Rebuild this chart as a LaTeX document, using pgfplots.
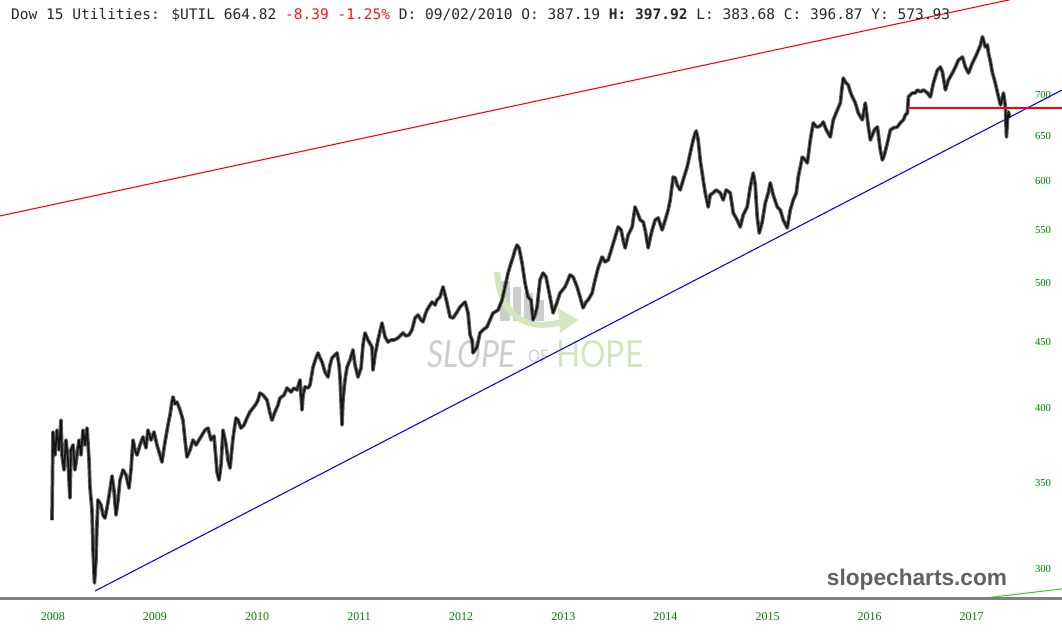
\documentclass[border=0pt]{standalone}
\usepackage{fontspec}
\setmainfont{Liberation Serif}
\newfontfamily\monofont{DejaVu Sans Mono}
\newfontfamily\wmfont[FakeStretch=0.85]{Lato}
\newfontfamily\sitefont{Liberation Sans}
\usepackage{pgfplots}
\usepackage{pgfplotstable}
\pgfplotsset{compat=1.18}
\definecolor{hdrred}{RGB}{255,20,20}
\definecolor{hdrtxt}{RGB}{40,40,40}
\definecolor{tickgreen}{RGB}{0,128,0}
\definecolor{wmgray}{RGB}{205,205,205}
\definecolor{wmgreen}{RGB}{212,230,188}
\definecolor{pricecol}{RGB}{20,20,20}
\definecolor{bandcol}{RGB}{70,72,68}
\definecolor{pureRed}{RGB}{255,0,0}
\definecolor{pureBlue}{RGB}{0,0,255}
\definecolor{lineGreen}{RGB}{40,220,40}

\pgfplotstableread{
x y
2007.992 327.4
2008.002 383.3
2008.022 367.8
2008.041 384.6
2008.061 371.1
2008.080 391.5
2008.090 367.8
2008.110 358.1
2008.129 377.8
2008.149 364.5
2008.168 340.6
2008.178 371.1
2008.198 374.5
2008.217 358.1
2008.237 367.8
2008.257 377.8
2008.276 367.8
2008.296 384.6
2008.315 374.5
2008.335 386.0
2008.355 364.5
2008.364 347.3
2008.384 333.3
2008.394 310.3
2008.408 292.6
2008.423 304.9
2008.433 325.7
2008.443 339.4
2008.472 336.4
2008.492 330.4
2008.511 328.6
2008.531 334.6
2008.560 345.5
2008.580 354.3
2008.599 345.5
2008.619 330.4
2008.639 339.4
2008.658 351.7
2008.688 358.1
2008.717 354.9
2008.746 346.7
2008.766 358.1
2008.786 377.8
2008.805 371.1
2008.825 367.8
2008.854 374.5
2008.883 379.9
2008.913 372.5
2008.932 384.6
2008.962 377.8
2008.991 383.3
2009.020 374.5
2009.050 367.8
2009.069 363.2
2009.099 376.5
2009.128 388.1
2009.148 395.1
2009.167 404.3
2009.177 408.0
2009.197 402.9
2009.216 404.3
2009.246 398.7
2009.275 391.5
2009.295 377.8
2009.314 366.5
2009.344 371.1
2009.373 377.8
2009.403 374.5
2009.432 377.8
2009.461 381.2
2009.491 384.6
2009.520 386.0
2009.550 377.8
2009.579 380.5
2009.599 364.5
2009.608 356.8
2009.628 351.7
2009.648 361.3
2009.667 384.6
2009.697 374.5
2009.716 364.5
2009.736 359.3
2009.765 379.2
2009.794 393.0
2009.814 391.5
2009.843 386.0
2009.873 388.1
2009.902 393.0
2009.931 397.3
2009.961 400.0
2009.990 402.9
2010.010 405.8
2010.029 410.9
2010.059 409.4
2010.098 405.8
2010.127 396.5
2010.147 391.5
2010.176 397.3
2010.206 402.2
2010.225 407.2
2010.265 409.4
2010.294 414.6
2010.333 411.6
2010.363 414.6
2010.392 413.1
2010.421 420.6
2010.441 398.7
2010.451 409.4
2010.470 415.4
2010.500 414.6
2010.519 416.9
2010.549 430.4
2010.578 437.5
2010.598 441.4
2010.617 437.5
2010.637 434.3
2010.666 426.6
2010.696 422.8
2010.715 432.0
2010.735 437.5
2010.764 439.8
2010.784 441.4
2010.803 432.0
2010.813 422.8
2010.833 388.1
2010.842 405.8
2010.862 420.6
2010.882 430.4
2010.911 435.9
2010.940 443.8
2010.960 432.0
2010.989 422.8
2011.019 429.7
2011.038 447.7
2011.058 457.5
2011.087 451.7
2011.126 446.1
2011.136 428.1
2011.156 439.8
2011.185 451.7
2011.224 465.7
2011.254 454.2
2011.283 450.1
2011.312 451.7
2011.342 451.7
2011.381 453.4
2011.401 455.0
2011.430 457.5
2011.459 455.0
2011.489 455.9
2011.518 460.0
2011.548 469.8
2011.577 472.4
2011.606 468.2
2011.626 466.6
2011.646 472.4
2011.665 476.6
2011.695 480.9
2011.714 483.5
2011.744 480.9
2011.763 485.2
2011.793 487.8
2011.822 496.7
2011.842 489.6
2011.861 482.6
2011.891 470.7
2011.920 469.8
2011.959 474.9
2011.989 479.2
2012.008 480.9
2012.038 483.5
2012.067 474.1
2012.087 455.9
2012.106 451.7
2012.116 441.4
2012.135 443.8
2012.155 446.1
2012.184 457.5
2012.214 460.0
2012.253 462.4
2012.282 468.2
2012.312 474.1
2012.331 474.9
2012.361 476.6
2012.400 485.2
2012.429 496.7
2012.459 509.2
2012.488 518.4
2012.508 524.0
2012.527 530.6
2012.547 535.3
2012.567 532.5
2012.596 518.4
2012.625 500.2
2012.655 487.8
2012.684 485.2
2012.704 468.2
2012.723 472.4
2012.743 479.2
2012.772 503.0
2012.802 509.2
2012.831 505.6
2012.870 487.8
2012.900 474.1
2012.929 480.9
2012.968 491.3
2013.017 496.7
2013.047 503.0
2013.066 507.4
2013.096 505.6
2013.135 496.7
2013.164 487.8
2013.194 478.4
2013.223 483.5
2013.243 485.2
2013.282 491.3
2013.311 503.0
2013.341 513.8
2013.380 524.0
2013.409 519.4
2013.439 521.2
2013.478 533.4
2013.508 543.0
2013.537 552.9
2013.566 549.9
2013.586 540.1
2013.606 532.5
2013.635 545.0
2013.674 552.9
2013.703 573.0
2013.723 568.0
2013.753 559.8
2013.782 557.9
2013.802 549.9
2013.831 532.5
2013.851 542.1
2013.870 549.9
2013.900 559.8
2013.929 561.9
2013.968 549.9
2013.998 559.8
2014.027 570.0
2014.047 580.2
2014.066 596.0
2014.076 604.6
2014.096 603.5
2014.115 596.0
2014.145 590.7
2014.174 601.4
2014.213 615.5
2014.243 631.0
2014.272 645.9
2014.292 654.1
2014.302 656.4
2014.321 645.9
2014.341 623.2
2014.370 601.4
2014.390 587.6
2014.419 573.0
2014.439 585.5
2014.468 587.6
2014.497 590.7
2014.537 587.6
2014.566 580.2
2014.595 590.7
2014.635 587.6
2014.664 567.0
2014.703 559.8
2014.733 552.9
2014.762 564.9
2014.801 573.0
2014.831 593.9
2014.860 608.9
2014.880 596.0
2014.899 562.9
2014.919 546.9
2014.948 557.9
2014.978 577.1
2015.007 587.6
2015.027 598.2
2015.056 585.5
2015.095 573.0
2015.125 570.0
2015.154 559.8
2015.193 551.9
2015.223 570.0
2015.252 580.2
2015.282 587.6
2015.301 604.6
2015.341 626.5
2015.370 623.2
2015.390 619.9
2015.419 645.9
2015.448 665.9
2015.478 661.2
2015.497 661.2
2015.527 663.5
2015.546 667.1
2015.576 657.6
2015.615 649.4
2015.644 669.5
2015.684 681.5
2015.713 690.1
2015.733 712.7
2015.742 721.6
2015.762 716.5
2015.791 712.7
2015.811 703.9
2015.831 697.6
2015.860 690.1
2015.889 677.8
2015.929 669.5
2015.958 690.1
2015.988 661.2
2016.007 645.9
2016.027 651.8
2016.047 657.6
2016.076 661.2
2016.105 634.4
2016.125 623.2
2016.144 628.8
2016.174 642.5
2016.203 657.6
2016.233 660.0
2016.272 661.2
2016.301 665.9
2016.331 669.5
2016.350 675.4
2016.370 677.8
2016.380 697.6
2016.399 700.1
2016.419 702.6
2016.448 702.6
2016.468 706.4
2016.497 703.9
2016.527 706.4
2016.566 702.6
2016.595 697.6
2016.625 715.2
2016.664 732.0
2016.693 735.9
2016.713 729.4
2016.742 706.4
2016.772 719.1
2016.811 728.1
2016.840 735.9
2016.870 745.2
2016.909 749.3
2016.938 735.9
2016.968 728.1
2017.007 741.3
2017.036 749.3
2017.066 758.7
2017.086 765.6
2017.105 777.0
2017.134 762.8
2017.154 765.6
2017.164 754.6
2017.184 742.6
2017.203 728.1
2017.223 719.1
2017.242 708.9
2017.262 697.6
2017.282 687.6
2017.301 696.3
2017.311 702.6
2017.321 693.8
2017.331 683.9
2017.340 649.4
2017.350 669.5
2017.360 679.1
2017.370 671.8
}\utildata

\begin{document}
\begin{tikzpicture}
\useasboundingbox (0,-29.25pt) rectangle (796.5pt,448.5pt);
% watermark (pixel coordinates, origin top-left)
\begin{scope}[x=0.75pt,y=-0.75pt,shift={(0,448.5pt)}]
  \fill[wmgray] (500,281) rectangle (510,321);
  \fill[wmgray] (513,287) rectangle (521,321);
  \fill[wmgray] (524,293) rectangle (533,321);
  \fill[wmgray] (536,300) rectangle (544,321);
  \draw[wmgreen, line width=4.5pt] (497,272) .. controls (500,315) and (525,332) .. (562,322);
  \fill[wmgreen] (558,308) -- (578,320) -- (560,333) -- cycle;
  \node[anchor=base west, inner sep=0, text=wmgray, font=\wmfont\itshape\fontsize{28}{30}\selectfont] at (427,367) {SLOPE};
  \node[anchor=base west, inner sep=0, text=wmgray, font=\wmfont\fontsize{13}{15}\selectfont] at (528,362) {OF};
  \node[anchor=base west, inner sep=0, text=wmgreen, font=\wmfont\fontsize{28}{30}\selectfont] at (556,367) {HOPE};
\end{scope}
\begin{axis}[
  at={(0,0)}, anchor=south west,
  scale only axis, width=796.5pt, height=448.5pt,
  xmin=2007.4829, xmax=2017.8844,
  ymode=log, ymin=284.84, ymax=829.6,
  axis line style={draw=none},
  major tick length=0pt, minor tick num=0,
  xtick={2008,2009,2010,2011,2012,2013,2014,2015,2016,2017},
  xticklabels={2008,2009,2010,2011,2012,2013,2014,2015,2016,2017},
  ytick={300,350,400,450,500,550,600,650,700},
  yticklabels={300,350,400,450,500,550,600,650,700},
  yminorticks=false, xminorticks=false,
  yticklabel pos=right,
  /pgf/number format/assume math mode=true,
  xticklabel style={anchor=center, yshift=-14.25pt, text=tickgreen, font=\fontsize{9}{10}\selectfont},
  yticklabel style={anchor=center, xshift=-14.25pt, text=tickgreen, font=\fontsize{8}{9}\selectfont},
  clip=true,
]
% trend lines
\addplot[draw=pureRed, line width=0.8pt] coordinates {(2007.4829,563.9) (2017.8844,846.7)};
\addplot[draw=pureBlue, line width=0.8pt] coordinates {(2008.413,288.4) (2017.8844,706.3)};
\addplot[draw=lineGreen, line width=0.8pt] coordinates {(2017.130,284.84) (2017.8844,289.5)};
% price
\addplot[draw=bandcol, line width=2.8pt, line join=round, opacity=0.85] table {\utildata};
\addplot[draw=pricecol, line width=1.2pt, line join=round] table {\utildata};
% horizontal level
\addplot[draw=pureRed, line width=1pt] coordinates {(2016.380,683.9) (2017.8844,683.9)};
\end{axis}
% bottom axis line
\fill[black!50] (0,-1.5pt) rectangle (796.5pt,0.4pt);
% header
\node[anchor=base west, inner sep=0, text=hdrtxt, font=\monofont\fontsize{10.9}{12}\selectfont] at (8.1pt,433.5pt)
 {Dow 15 Utilities: \$UTIL 664.82 \textcolor{hdrred}{-8.39 -1.25\%} D: 09/02/2010 O: 387.19 \textbf{H: 397.92} L: 383.68 C: 396.87 Y: 573.93};
% site name
\node[anchor=center, inner sep=0, text=black!62, font=\sitefont\bfseries\fontsize{17}{19}\selectfont] at (687.75pt,13.5pt) {slopecharts.com};
\end{tikzpicture}
\end{document}
